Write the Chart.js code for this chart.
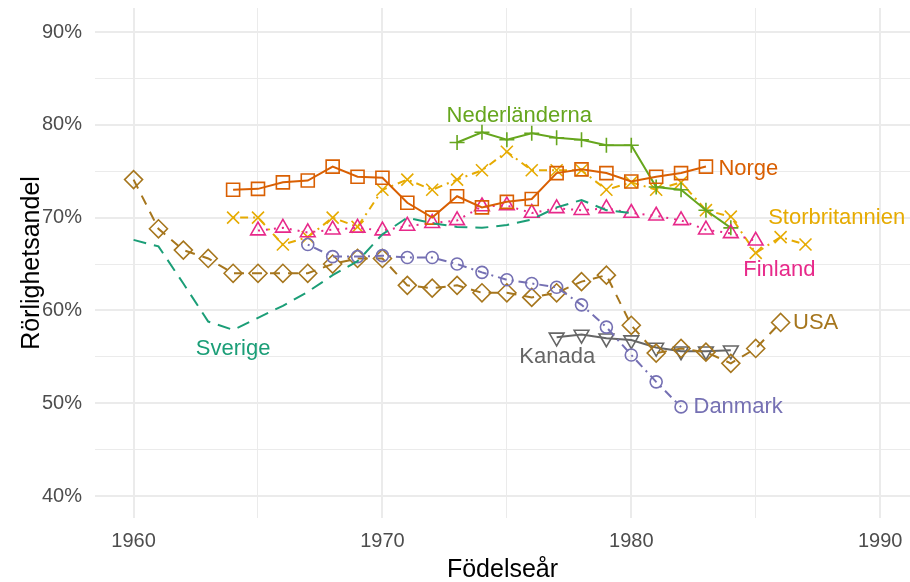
<!DOCTYPE html>
<html><head><meta charset="utf-8">
<script src="https://cdn.jsdelivr.net/npm/chart.js@4/dist/chart.umd.min.js"></script>
<style>html,body{margin:0;padding:0;background:#fff}#wrap{width:910px;height:582px;position:relative}</style>
</head><body><div id="wrap"><canvas id="c"></canvas></div>
<script>
const years = [1960,1961,1962,1963,1964,1965,1966,1967,1968,1969,1970,1971,1972,1973,1974,1975,1976,1977,1978,1979,1980,1981,1982,1983,1984,1985,1986,1987];
const sverige = [67.6,66.9,62.9,58.8,57.9,59.2,60.5,62.0,63.8,65.3,68.2,70.0,69.4,69.0,68.9,69.2,69.8,71.1,71.9,70.8,70.5,null,null,null,null,null,null,null];
const norge = [null,null,null,null,73.0,73.1,73.8,74.0,75.5,74.4,74.3,71.6,70.0,72.3,71.1,71.7,72.0,74.8,75.2,74.8,73.9,74.4,74.8,75.5,null,null,null,null];
const danmark = [null,null,null,null,null,null,null,67.1,65.8,65.8,65.9,65.7,65.7,65.0,64.1,63.3,62.9,62.5,60.6,58.2,55.2,52.3,49.6,null,null,null,null,null];
const finland = [null,null,null,null,null,68.6,68.9,68.4,68.7,68.9,68.6,69.1,69.4,69.7,71.2,71.3,70.5,71.0,70.8,71.0,70.5,70.2,69.7,68.7,68.3,67.5,null,null];
const nederlanderna = [null,null,null,null,null,null,null,null,null,null,null,null,null,78.1,79.2,78.4,79.1,78.6,78.4,77.8,77.8,73.3,73.0,70.8,68.9,null,null,null];
const storbritannien = [null,null,null,null,70.0,70.0,67.1,67.9,70.0,69.0,73.0,74.1,73.0,74.1,75.1,77.1,75.1,75.1,75.1,73.0,73.8,73.0,73.8,70.8,70.1,66.2,67.9,67.1];
const usa = [74.1,68.8,66.5,65.6,64.0,64.0,64.0,64.0,65.0,65.6,65.6,62.7,62.4,62.7,61.9,61.9,61.4,61.9,63.1,63.8,58.4,55.4,55.9,55.5,54.3,55.9,58.7,null];
const kanada = [null,null,null,null,null,null,null,null,null,null,null,null,null,null,null,null,null,57.1,57.4,57.0,56.8,56.0,55.6,55.6,55.7,null,null,null];
const xTicks = [1960,1965,1970,1975,1980,1985,1990];
const yTicks = [40,45,50,55,60,65,70,75,80,85,90];

const FONT = "'Liberation Sans', Arial, sans-serif";
const series = [
  {name:'Sverige', vals:sverige, color:'#1b9e77', dash:[13,8], style:false, r:0},
  {name:'Norge', vals:norge, color:'#d95f02', dash:[], style:'rect', r:9.2},
  {name:'Danmark', vals:danmark, color:'#7570b3', dash:[2,5,9,5], style:'circle', r:6},
  {name:'Finland', vals:finland, color:'#e7298a', dash:[2,6], style:'triangle', r:8.5},
  {name:'Nederländerna', vals:nederlanderna, color:'#66a61e', dash:[], style:'cross', r:7.5},
  {name:'Storbritannien', vals:storbritannien, color:'#e6ab02', dash:[2,5,8,5], style:'crossRot', r:8.5},
  {name:'USA', vals:usa, color:'#a6761d', dash:[10,8], style:'rectRot', r:9},
  {name:'Kanada', vals:kanada, color:'#666666', dash:[], style:'triangle', r:8.5, rot:180}
];
const labelDefs = [
  {text:'Nederländerna', x:1975.5, y:81.0, align:'center', color:'#66a61e'},
  {text:'Norge', x:1983.5, y:75.3, align:'left', color:'#d95f02'},
  {text:'Storbritannien', x:1985.5, y:70.0, align:'left', color:'#e6ab02'},
  {text:'Finland', x:1984.5, y:64.4, align:'left', color:'#e7298a'},
  {text:'USA', x:1986.5, y:58.7, align:'left', color:'#a6761d'},
  {text:'Danmark', x:1982.5, y:49.6, align:'left', color:'#7570b3'},
  {text:'Kanada', x:1975.5, y:55.0, align:'left', color:'#666666'},
  {text:'Sverige', x:1964.0, y:55.9, align:'center', color:'#1b9e77'}
];

const datasets = series.map(s => ({
  label: s.name,
  data: years.map((x,i)=>({x:x, y:s.vals[i]})).filter(p=>p.y!==null),
  borderColor: s.color,
  backgroundColor: 'rgba(0,0,0,0)',
  borderWidth: 2,
  borderDash: s.dash,
  tension: 0,
  fill: false,
  pointStyle: s.style,
  pointRadius: s.r,
  pointHoverRadius: s.r,
  pointBorderWidth: 1.6,
  pointBorderColor: s.color,
  pointBackgroundColor: 'rgba(0,0,0,0)',
  pointRotation: s.rot || 0
}));

const labelPlugin = {
  id:'labels',
  afterDatasetsDraw(chart){
    const ctx = chart.ctx, xs = chart.scales.x, ys = chart.scales.y;
    ctx.save();
    ctx.font = '22px ' + FONT;
    ctx.textBaseline = 'middle';
    labelDefs.forEach(l=>{
      ctx.fillStyle = l.color;
      ctx.textAlign = l.align;
      ctx.fillText(l.text, xs.getPixelForValue(l.x), ys.getPixelForValue(l.y));
    });
    ctx.restore();
  }
};

new Chart(document.getElementById('c'), {
  type:'line',
  data:{datasets},
  plugins:[labelPlugin],
  options:{
    responsive:true, maintainAspectRatio:false, animation:false, devicePixelRatio:1,
    layout:{autoPadding:false, padding:{top:8,left:0,right:0,bottom:0}},
    plugins:{legend:{display:false}, tooltip:{enabled:false}},
    events:[],
    scales:{
      x:{type:'linear', min:1958.45, max:1991.2,
        afterBuildTicks(s){ s.ticks = xTicks.map(v=>({value:v})); },
        afterFit(s){ s.height = 64; s.paddingLeft = 0; s.paddingRight = 0; s.paddingTop = 0; s.paddingBottom = 0; },
        border:{display:false},
        grid:{drawTicks:false, color:'#ebebeb', lineWidth: c => (c.tick && c.tick.value % 10 === 0) ? 2 : 1},
        ticks:{padding:11, color:'#4d4d4d', font:{family:FONT, size:20}, maxRotation:0, autoSkip:false,
          callback:(v)=> v % 10 === 0 ? String(v) : ''},
        title:{display:true, text:'Födelseår', color:'#000', font:{family:FONT, size:25}, padding:{top:0,bottom:-3}}
      },
      y:{type:'linear', min:37.63, max:92.59,
        afterBuildTicks(s){ s.ticks = yTicks.map(v=>({value:v})); },
        afterFit(s){ s.width = 95; s.paddingLeft = 0; s.paddingRight = 0; s.paddingTop = 0; s.paddingBottom = 0; },
        border:{display:false},
        grid:{drawTicks:false, color:'#ebebeb', lineWidth: c => (c.tick && c.tick.value % 10 === 0) ? 2 : 1},
        ticks:{padding:13, color:'#4d4d4d', font:{family:FONT, size:20}, autoSkip:false,
          callback:(v)=> v % 10 === 0 ? v + '%' : ''},
        title:{display:true, text:'Rörlighetsandel', color:'#000', font:{family:FONT, size:25}, padding:{top:17,bottom:0}}
      }
    }
  }
});
</script></body></html>
